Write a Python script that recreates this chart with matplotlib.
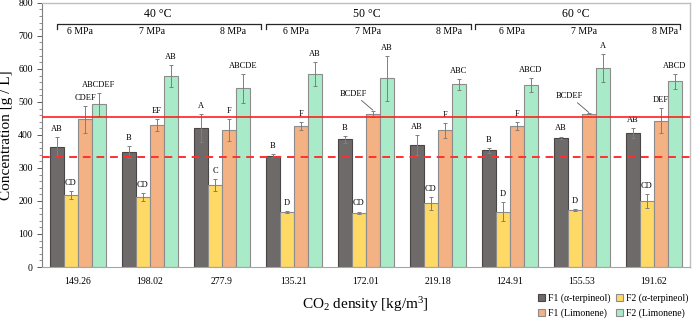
import numpy as np
import matplotlib
matplotlib.use("Agg")
import matplotlib.pyplot as plt
from matplotlib.ticker import MultipleLocator

plt.rcParams['font.family'] = ['Liberation Serif', 'DejaVu Serif']
plt.rcParams['mathtext.fontset'] = 'custom'
plt.rcParams['mathtext.rm'] = 'Liberation Serif'
plt.rcParams['mathtext.it'] = 'Liberation Serif:italic'

# CO2 density per condition (x tick labels)
densities = ['149.26', '198.02', '277.9', '135.21', '172.01', '219.18', '124.91', '155.53', '191.62']
temps = ['40 °C', '50 °C', '60 °C']
pressures = ['6 MPa', '7 MPa', '8 MPa']

series_names = ['F1 (α-terpineol)', 'F2 (α-terpineol)', 'F1 (Limonene)', 'F2 (Limonene)']
f1_terp = [363, 348, 422, 337, 387, 370, 353, 392, 405]
f2_terp = [218, 212, 248, 167, 165, 193, 168, 172, 200]
f1_lim = [447, 430, 415, 426, 463, 414, 427, 464, 443]
f2_lim = [493, 578, 541, 584, 571, 553, 550, 602, 562]

f1_terp_err = [30, 18, 42, 5, 10, 30, 8, 3, 15]
f2_terp_err = [12, 12, 18, 2, 3, 20, 28, 3, 22]
f1_lim_err = [40, 17, 32, 12, 10, 22, 12, 2, 38]
f2_lim_err = [35, 33, 43, 37, 68, 16, 21, 43, 23]

letters_f1_terp = ['AB', 'B', 'A', 'B', 'B', 'AB', 'B', 'AB', 'AB']
letters_f2_terp = ['CD', 'CD', 'C', 'D', 'CD', 'CD', 'D', 'D', 'CD']
letters_f1_lim = ['CDEF', 'EF', 'F', 'F', 'BCDEF', 'F', 'F', 'BCDEF', 'DEF']
letters_f2_lim = ['ABCDEF', 'AB', 'ABCDE', 'AB', 'AB', 'ABC', 'ABCD', 'A', 'ABCD']

ref_solid = 454
ref_dashed = 333

values = [f1_terp, f2_terp, f1_lim, f2_lim]
errors = [f1_terp_err, f2_terp_err, f1_lim_err, f2_lim_err]
letters = [letters_f1_terp, letters_f2_terp, letters_f1_lim, letters_f2_lim]
colors = ['#6E6A69', '#FFD966', '#F4B183', '#A9EBC8']
edges = ['#4A4646', '#8C8C8C', '#8C8C8C', '#8C8C8C']

fig = plt.figure(figsize=(6.94, 3.19), dpi=100)
ax = fig.add_axes([0.0605, 0.163, 0.9335, 0.828])

x = np.arange(len(densities))
w = 0.194
offsets = [-1.5, -0.5, 0.5, 1.5]

handles = []
for k in range(4):
    xs = x + offsets[k] * w
    b = ax.bar(xs, values[k], w, color=colors[k], edgecolor=edges[k], linewidth=0.8,
               label=series_names[k], zorder=2)
    handles.append(b)
    ax.errorbar(xs, values[k], yerr=errors[k], fmt='none', ecolor='#7F7F7F',
                elinewidth=0.7, capsize=1.6, capthick=0.7, zorder=3)
    for i in range(len(densities)):
        top = values[k][i] + errors[k][i]
        lab = letters[k][i]
        if lab == 'BCDEF':
            # placed up-left with a leader line
            ax.annotate(lab, xy=(xs[i], top + 2), xytext=(xs[i] - 0.27, top + 40),
                        fontsize=6, ha='center', va='bottom',
                        arrowprops=dict(arrowstyle='-', color='#595959', lw=0.6,
                                        shrinkA=0, shrinkB=0))
        else:
            ax.annotate(lab, xy=(xs[i], top), xytext=(0, 3), textcoords='offset points',
                        fontsize=6, ha='center', va='bottom')

# reference lines
ax.axhline(ref_solid, color='#FF2020', lw=1.2, zorder=4)
ax.axhline(ref_dashed, color='#FF3030', lw=1.4, ls=(0, (4, 3)), zorder=4)

# temperature brackets
spans = [(-0.29, 2.54), (2.61, 5.46), (5.51, 8.36)]
for t, (a, b) in enumerate(spans):
    ax.plot([a, a, b, b], [722, 736, 736, 722], color='#262626', lw=0.9, zorder=5)
    ax.text((a + b) / 2 - 0.02, 748, temps[t], fontsize=8.5, ha='center', va='bottom')
    for p in range(3):
        g = 3 * t + p
        shift = 0.15 if p == 2 else 0.03
        ax.text(g + shift, 713, pressures[p], fontsize=7, ha='center', va='center')

ax.set_xlim(-0.5, len(densities) - 0.5)
ax.set_ylim(0, 800)
ax.set_xticks(x)
ax.set_xticklabels(densities, fontsize=7)
ax.tick_params(axis='x', length=0, pad=7)
ax.yaxis.set_major_locator(MultipleLocator(100))
ax.yaxis.set_minor_locator(MultipleLocator(20))
ax.tick_params(axis='y', which='major', length=3.5, width=0.7, labelsize=7, color='#595959', pad=3)
ax.tick_params(axis='y', which='minor', length=2, width=0.6, color='#7F7F7F')

for side in ['top', 'right']:
    ax.spines[side].set_color('#BFBFBF')
    ax.spines[side].set_linewidth(1.0)
ax.spines['bottom'].set_color('#A6A6A6')
ax.spines['left'].set_color('#7F7F7F')
ax.spines['left'].set_linewidth(0.8)

ax.set_ylabel('Concentration [g / L]', fontsize=11, labelpad=4)
fig.text(0.527, 0.045, r'CO$_2$ density [kg/m$^3$]', fontsize=11, ha='center', va='center')

leg_order = [0, 2, 1, 3]
fig.legend([handles[i] for i in leg_order], [series_names[i] for i in leg_order],
           ncol=2, loc='lower right', bbox_to_anchor=(1.0, -0.015), frameon=False,
           fontsize=7, handlelength=0.7, handleheight=0.7, handletextpad=0.3,
           columnspacing=0.6, labelspacing=0.55, borderaxespad=0.2)

fig.savefig('out.png', dpi=100)
